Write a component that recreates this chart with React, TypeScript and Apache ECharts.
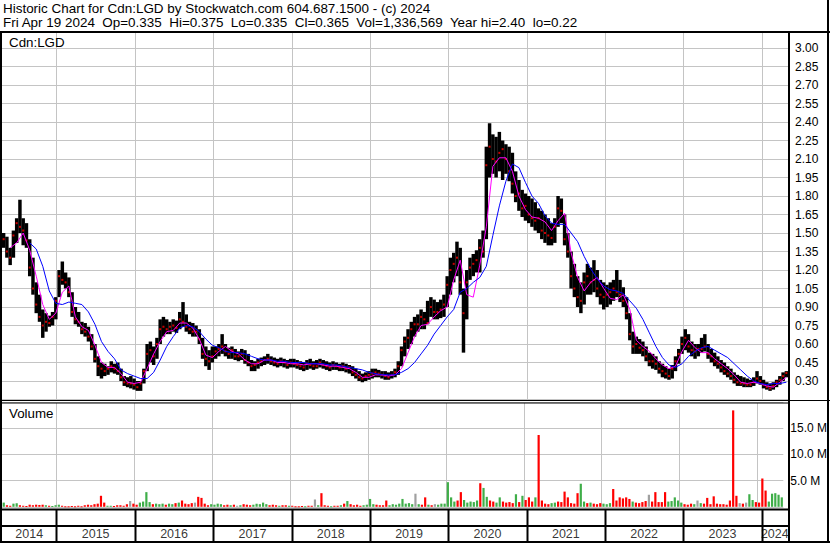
import React, { useEffect, useRef } from "react";
import * as echarts from "echarts";

const TITLE_LINE_1 = "Historic Chart for Cdn:LGD by Stockwatch.com 604.687.1500 - (c) 2024";
const TITLE_LINE_2 = "Fri Apr 19 2024  Op=0.335  Hi=0.375  Lo=0.335  Cl=0.365  Vol=1,336,569  Year hi=2.40  lo=0.22";
const SYMBOL_LABEL = "Cdn:LGD";
const VOLUME_LABEL = "Volume";

const START = Date.UTC(2014, 3, 22);
const END = Date.UTC(2024, 4, 3);

const YEARS = [2014, 2015, 2016, 2017, 2018, 2019, 2020, 2021, 2022, 2023, 2024];

// half-month periods, Apr 2014 .. Apr 2024
const HIGH = [
  1.50,1.47,1.38,1.52,1.62,1.77,1.62,1.58,1.45,1.30,1.10,1.00,0.88,0.85,0.83,0.86,0.98,
  1.20,1.27,1.18,1.14,1.02,0.90,0.86,0.78,0.77,0.74,0.68,0.60,0.50,0.45,0.44,0.42,0.46,0.44,0.45,0.40,0.34,0.33,0.34,0.32,
  0.30,0.30,0.40,0.60,0.62,0.58,0.65,0.80,0.82,0.80,0.78,0.80,0.79,0.86,0.94,0.84,0.78,0.77,0.75,0.72,0.65,0.58,0.55,0.58,
  0.58,0.60,0.68,0.60,0.57,0.58,0.56,0.54,0.56,0.55,0.52,0.47,0.46,0.48,0.49,0.50,0.52,0.50,0.49,0.48,0.49,0.48,0.47,0.48,
  0.48,0.47,0.46,0.45,0.47,0.48,0.46,0.47,0.48,0.47,0.46,0.45,0.46,0.45,0.44,0.45,0.44,0.43,0.42,0.40,0.38,0.36,0.37,0.38,
  0.40,0.40,0.39,0.38,0.38,0.37,0.38,0.40,0.46,0.58,0.66,0.72,0.78,0.82,0.84,0.88,0.86,0.95,0.98,0.96,0.94,0.96,1.00,1.15,
  1.30,1.34,1.43,1.38,1.05,1.20,1.30,1.33,1.36,1.45,1.52,2.20,2.39,2.30,2.28,2.32,2.25,2.22,2.20,2.15,2.00,1.93,1.85,1.82,
  1.80,1.78,1.75,1.70,1.68,1.65,1.62,1.58,1.62,1.80,1.78,1.65,1.50,1.35,1.25,1.15,1.10,1.18,1.25,1.22,1.28,1.20,1.12,1.10,
  1.08,1.10,1.12,1.20,1.12,1.06,0.98,0.85,0.70,0.66,0.64,0.62,0.58,0.53,0.52,0.50,0.46,0.44,0.42,0.40,0.43,0.50,0.56,0.66,
  0.72,0.68,0.62,0.60,0.60,0.65,0.68,0.60,0.56,0.53,0.50,0.47,0.45,0.42,0.40,0.37,0.35,0.34,0.33,0.32,0.31,0.33,0.38,0.34,
  0.31,0.29,0.28,0.29,0.31,0.34,0.37,0.38,
];

const LOW = [
  1.38,1.30,1.24,1.30,1.42,1.50,1.40,1.38,1.15,1.00,0.85,0.78,0.65,0.70,0.74,0.75,0.80,
  0.98,1.08,1.05,0.98,0.82,0.76,0.74,0.68,0.66,0.62,0.55,0.45,0.34,0.32,0.34,0.35,0.37,0.36,0.35,0.30,0.26,0.25,0.24,0.23,
  0.22,0.22,0.28,0.38,0.45,0.43,0.48,0.60,0.66,0.68,0.68,0.70,0.69,0.72,0.74,0.70,0.68,0.66,0.66,0.60,0.48,0.42,0.39,0.45,
  0.48,0.50,0.52,0.50,0.48,0.48,0.47,0.46,0.47,0.44,0.42,0.38,0.38,0.40,0.42,0.43,0.44,0.43,0.42,0.41,0.42,0.41,0.40,0.41,
  0.41,0.40,0.39,0.38,0.39,0.40,0.39,0.40,0.41,0.40,0.39,0.38,0.39,0.39,0.38,0.38,0.37,0.36,0.34,0.32,0.30,0.29,0.30,0.31,
  0.32,0.33,0.33,0.32,0.31,0.31,0.32,0.33,0.35,0.42,0.50,0.56,0.60,0.66,0.70,0.72,0.72,0.76,0.82,0.80,0.80,0.81,0.82,0.90,
  1.00,1.10,1.15,1.00,0.53,0.80,1.12,1.15,1.18,1.18,1.30,1.45,1.95,1.98,1.95,2.00,1.93,1.98,1.92,1.82,1.75,1.68,1.63,1.60,
  1.58,1.55,1.52,1.50,1.45,1.42,1.40,1.40,1.42,1.55,1.58,1.40,1.30,1.05,0.98,0.90,0.85,0.92,1.00,1.00,1.02,0.98,0.92,0.88,
  0.90,0.92,0.95,0.98,0.94,0.90,0.80,0.63,0.52,0.52,0.52,0.50,0.46,0.42,0.40,0.39,0.36,0.33,0.32,0.31,0.32,0.38,0.44,0.52,
  0.55,0.53,0.50,0.48,0.50,0.53,0.54,0.48,0.45,0.42,0.40,0.37,0.35,0.33,0.31,0.28,0.26,0.26,0.25,0.25,0.25,0.26,0.28,0.27,
  0.24,0.23,0.22,0.23,0.25,0.27,0.30,0.33,
];

const CLOSE = [
  1.45,1.35,1.30,1.48,1.58,1.55,1.52,1.44,1.22,1.05,0.92,0.82,0.75,0.78,0.77,0.82,0.95,
  1.15,1.12,1.10,1.02,0.86,0.80,0.78,0.72,0.70,0.66,0.58,0.48,0.42,0.40,0.38,0.40,0.42,0.40,0.38,0.33,0.29,0.28,0.28,0.27,
  0.25,0.28,0.38,0.52,0.55,0.50,0.60,0.72,0.74,0.72,0.74,0.75,0.73,0.80,0.78,0.74,0.72,0.70,0.70,0.64,0.52,0.48,0.46,0.50,
  0.54,0.56,0.58,0.54,0.52,0.55,0.50,0.50,0.52,0.47,0.45,0.42,0.43,0.45,0.46,0.47,0.48,0.46,0.45,0.44,0.46,0.45,0.43,0.45,
  0.44,0.43,0.42,0.41,0.44,0.43,0.42,0.42,0.45,0.43,0.42,0.41,0.43,0.42,0.41,0.42,0.40,0.41,0.37,0.35,0.33,0.32,0.34,0.35,
  0.36,0.37,0.36,0.35,0.34,0.33,0.35,0.37,0.42,0.55,0.62,0.65,0.72,0.76,0.76,0.82,0.80,0.77,0.90,0.86,0.86,0.88,0.92,1.08,
  1.20,1.25,1.30,1.10,0.85,1.10,1.22,1.25,1.28,1.38,1.35,2.05,2.20,2.10,2.08,2.15,2.18,2.10,2.00,1.90,1.80,1.82,1.70,1.72,
  1.65,1.62,1.60,1.62,1.52,1.50,1.48,1.46,1.55,1.70,1.68,1.45,1.35,1.15,1.05,0.98,0.95,1.10,1.15,1.10,1.12,1.05,1.00,0.98,
  1.00,1.02,1.05,1.02,1.00,0.95,0.85,0.68,0.58,0.60,0.57,0.55,0.50,0.46,0.46,0.44,0.40,0.38,0.36,0.34,0.40,0.46,0.52,0.60,
  0.65,0.58,0.55,0.54,0.56,0.56,0.58,0.52,0.50,0.46,0.44,0.41,0.38,0.36,0.34,0.31,0.29,0.28,0.28,0.27,0.27,0.29,0.32,0.30,
  0.27,0.25,0.24,0.26,0.29,0.31,0.34,0.365,
];

// volume in millions of shares
const VOLUME = [
  0.8,0.3,0.2,0.6,0.7,0.3,0.2,0.15,0.4,0.3,0.4,0.35,0.4,0.3,0.2,0.15,0.3,
  0.4,0.2,0.1,0.1,0.15,0.1,0.2,0.1,0.3,0.4,0.3,0.5,0.6,2.1,0.8,0.2,0.2,0.15,0.3,0.3,0.2,0.5,1.1,0.6,
  0.4,0.8,1.0,2.8,0.9,0.5,0.6,0.5,0.6,0.4,0.6,0.5,0.7,0.8,1.2,0.6,0.5,0.7,0.8,1.9,1.7,0.6,0.3,0.5,
  0.4,0.6,0.5,0.3,0.4,0.3,0.4,0.2,0.3,0.5,0.4,0.3,0.4,0.6,0.5,0.8,0.5,0.3,0.4,0.3,0.2,0.3,0.3,0.2,
  0.2,0.1,0.1,0.15,0.1,0.2,0.2,1.4,0.3,2.6,0.3,0.2,0.1,0.2,0.2,0.3,0.6,1.1,0.5,0.3,0.4,0.2,0.3,0.4,
  1.5,0.5,0.4,0.3,0.3,1.2,0.3,0.5,0.4,0.6,1.5,0.6,0.7,0.5,2.5,0.5,0.4,1.8,0.4,0.3,0.5,0.4,0.6,0.6,
  4.7,1.8,1.0,1.2,2.8,1.3,0.8,1.0,0.9,1.2,4.5,3.6,1.9,1.2,1.0,0.8,1.8,1.0,0.8,0.9,0.7,2.4,0.9,2.1,
  1.3,1.8,1.0,1.8,13.7,1.2,0.6,0.5,0.7,0.8,1.0,0.9,2.9,1.8,0.7,0.6,2.6,4.4,1.0,0.7,0.8,0.6,0.5,0.7,
  0.6,0.5,0.7,3.4,1.2,1.8,1.6,1.8,1.5,1.0,0.8,0.7,0.9,1.1,2.3,1.0,2.8,0.9,0.9,2.8,1.0,1.1,1.8,1.2,
  0.8,0.5,0.4,0.6,0.5,1.2,0.7,0.6,1.7,0.5,2.0,0.6,0.5,0.5,0.4,1.2,18.4,2.1,0.7,0.6,0.8,2.4,1.3,0.9,
  0.8,5.4,3.1,1.0,2.5,2.6,2.3,1.8,
];

// monthly readings of the two moving averages
const MA_FAST = [
  null,1.38,1.42,1.50,1.36,1.15,0.92,0.80,0.85,1.02,
  1.07,0.82,0.74,0.71,0.59,0.45,0.41,0.41,0.36,0.29,
  0.28,0.29,0.40,0.52,0.62,0.70,0.71,0.77,0.77,0.73,
  0.64,0.51,0.49,0.54,0.58,0.54,0.52,0.47,0.44,0.44,
  0.47,0.47,0.45,0.45,0.44,0.44,0.43,0.44,0.44,0.43,
  0.42,0.42,0.41,0.40,0.37,0.33,0.33,0.35,0.35,0.34,
  0.35,0.40,0.53,0.66,0.75,0.76,0.82,0.87,0.90,1.12,
  1.28,1.00,0.98,1.24,1.55,2.04,2.11,2.11,2.00,1.80,
  1.69,1.63,1.62,1.59,1.52,1.60,1.66,1.34,1.14,1.03,
  1.10,1.14,1.05,0.97,0.96,1.00,0.88,0.63,0.58,0.54,
  0.48,0.43,0.40,0.42,0.54,0.63,0.57,0.53,0.53,0.48,
  0.44,0.40,0.35,0.29,0.28,0.29,0.28,0.26,0.25,0.29,0.33,
];

const MA_SLOW = [
  null,null,null,null,1.42,1.37,1.23,1.03,0.93,0.92,
  0.94,0.93,0.92,0.86,0.76,0.62,0.54,0.48,0.39,0.36,
  0.34,0.32,0.32,0.37,0.47,0.58,0.66,0.73,0.75,0.74,
  0.70,0.64,0.59,0.57,0.54,0.53,0.53,0.52,0.50,0.48,
  0.47,0.47,0.46,0.46,0.45,0.45,0.45,0.44,0.44,0.44,
  0.43,0.43,0.42,0.41,0.40,0.39,0.37,0.36,0.35,0.35,
  0.35,0.37,0.40,0.45,0.52,0.59,0.68,0.75,0.82,0.88,
  1.02,1.05,1.10,1.14,1.23,1.48,1.72,1.92,2.06,2.03,
  1.91,1.80,1.74,1.64,1.58,1.57,1.57,1.50,1.43,1.31,
  1.21,1.13,1.07,1.04,1.03,1.01,0.95,0.89,0.80,0.69,
  0.58,0.49,0.43,0.41,0.44,0.50,0.54,0.57,0.58,0.55,
  0.52,0.49,0.44,0.39,0.34,0.30,0.28,0.27,0.28,0.28,0.29,
];

const FONT = '"Liberation Sans", Arial, sans-serif';
const GRID_GRAY = "#c4c4c4";
const UP = "#3fae49";
const DOWN = "#ff0000";
const FLAT = "#a0a0a0";

export default function App() {
  const ref = useRef<HTMLDivElement>(null);

  useEffect(() => {
    const chart = echarts.init(ref.current!, null, { renderer: "svg" });
    const period = (END - START) / HIGH.length;
    const tBar = (i: number) => START + (i + 0.5) * period;
    const tMa = (m: number) => START + (2 * m + 0.5) * period;

    const priceData = HIGH.map((h, i) => [tBar(i), LOW[i], h]);
    const closeData = CLOSE.map((c, i) => [tBar(i), c]);
    const volData = VOLUME.map((v, i) => {
      const prev = i > 0 ? CLOSE[i - 1] : CLOSE[i] - 1;
      const color = CLOSE[i] > prev ? UP : CLOSE[i] < prev ? DOWN : FLAT;
      return { value: [tBar(i), v * 1e6], itemStyle: { color } };
    });
    const fastData = MA_FAST.map((v, m) => [tMa(m), v]).filter((d) => d[1] !== null);
    const slowData = MA_SLOW.map((v, m) => [tMa(m), v]).filter((d) => d[1] !== null);

    const yearStarts = YEARS.slice(1).map((y) => [Date.UTC(y, 0, 1)]);
    const yearLabels = YEARS.map((y) => {
      const a = Math.max(START, Date.UTC(y, 0, 1));
      const b = Math.min(END, Date.UTC(y + 1, 0, 1));
      return { name: String(y), value: [(a + b) / 2, 0.5] };
    });

    const yearLineSeries = (k: number, yMin: number, color: string, width: number) => ({
      type: "custom",
      xAxisIndex: k,
      yAxisIndex: k,
      silent: true,
      z: 1,
      data: yearStarts,
      encode: { x: 0 },
      renderItem: (params: any, api: any) => {
        const cs = params.coordSys;
        const x = Math.round(api.coord([api.value(0), yMin])[0]) + 0.5;
        return {
          type: "line",
          shape: { x1: x, y1: cs.y, x2: x, y2: cs.y + cs.height },
          style: { stroke: color, lineWidth: width },
        };
      },
    });

    const xAxisBase = (k: number) => ({
      type: "time",
      gridIndex: k,
      min: START,
      max: END,
      axisLabel: { show: false },
      axisLine: { show: false },
      axisTick: { show: false },
      splitLine: { show: false },
    });

    const frame = (x: number, y: number, w: number, h: number) => ({
      type: "rect",
      shape: { x, y, width: w, height: h },
      style: { fill: "#000" },
      silent: true,
      z: 100,
    });

    const option: any = {
      animation: false,
      backgroundColor: "#fff",
      grid: [
        { left: 2, top: 32, width: 786, height: 367.5 },
        { left: 2, top: 402, width: 786, height: 104.8 },
        { left: 2, top: 509, width: 786, height: 33 },
      ],
      xAxis: [xAxisBase(0), xAxisBase(1), xAxisBase(2)],
      yAxis: [
        {
          type: "value",
          gridIndex: 0,
          position: "right",
          min: 0.15,
          max: 3.13,
          interval: 0.15,
          axisLine: { show: false },
          axisTick: { show: false },
          splitLine: { show: true, lineStyle: { color: GRID_GRAY, width: 1 } },
          axisLabel: {
            show: true,
            showMinLabel: false,
            showMaxLabel: false,
            margin: 7,
            color: "#000",
            fontSize: 12,
            fontFamily: FONT,
            formatter: (v: number) => v.toFixed(2),
          },
        },
        {
          type: "value",
          gridIndex: 1,
          position: "right",
          min: 0,
          max: 20e6,
          interval: 5e6,
          axisLine: { show: false },
          axisTick: { show: false },
          splitLine: { show: true, lineStyle: { color: GRID_GRAY, width: 1 } },
          axisLabel: {
            show: true,
            showMinLabel: false,
            showMaxLabel: false,
            margin: 7,
            color: "#000",
            fontSize: 12,
            fontFamily: FONT,
            formatter: (v: number) => (v / 1e6).toFixed(1) + " M",
          },
        },
        {
          type: "value",
          gridIndex: 2,
          min: 0,
          max: 2,
          show: false,
        },
      ],
      series: [
        yearLineSeries(0, 0.15, GRID_GRAY, 1),
        yearLineSeries(1, 0, GRID_GRAY, 1),
        yearLineSeries(2, 0, "#000", 2),
        {
          type: "custom",
          xAxisIndex: 0,
          yAxisIndex: 0,
          z: 3,
          silent: true,
          data: priceData,
          encode: { x: 0, y: [1, 2] },
          renderItem: (params: any, api: any) => {
            const t = api.value(0);
            const p1 = api.coord([t, api.value(2)]);
            const p2 = api.coord([t, api.value(1)]);
            const w = api.size([period, 0])[0] + 0.2;
            return {
              type: "rect",
              shape: { x: p1[0] - w / 2, y: p1[1], width: w, height: Math.max(1, p2[1] - p1[1]) },
              style: { fill: "#000" },
            };
          },
        },
        {
          type: "scatter",
          xAxisIndex: 0,
          yAxisIndex: 0,
          z: 4,
          silent: true,
          symbol: "rect",
          symbolSize: [2, 2],
          itemStyle: { color: DOWN },
          data: closeData,
        },
        {
          type: "line",
          xAxisIndex: 0,
          yAxisIndex: 0,
          z: 5,
          silent: true,
          showSymbol: false,
          symbol: "none",
          lineStyle: { color: "#ff00ff", width: 1 },
          data: fastData,
        },
        {
          type: "line",
          xAxisIndex: 0,
          yAxisIndex: 0,
          z: 6,
          silent: true,
          showSymbol: false,
          symbol: "none",
          lineStyle: { color: "#0000ff", width: 1 },
          data: slowData,
        },
        {
          type: "custom",
          xAxisIndex: 1,
          yAxisIndex: 1,
          z: 3,
          silent: true,
          data: volData,
          encode: { x: 0, y: 1 },
          renderItem: (params: any, api: any) => {
            const t = api.value(0);
            const p0 = api.coord([t, 0]);
            const p1 = api.coord([t, api.value(1)]);
            return {
              type: "rect",
              shape: { x: p0[0] - 1, y: p1[1], width: 2.2, height: Math.max(1, p0[1] - p1[1]) },
              style: { fill: api.visual("color") },
            };
          },
        },
        {
          type: "scatter",
          xAxisIndex: 2,
          yAxisIndex: 2,
          silent: true,
          symbolSize: 0,
          data: yearLabels,
          label: {
            show: true,
            position: "inside",
            formatter: "{b}",
            color: "#000",
            fontSize: 12.5,
            fontFamily: FONT,
          },
        },
      ],
      graphic: [
        {
          type: "text",
          x: 3,
          y: 2,
          silent: true,
          style: {
            text: TITLE_LINE_1 + "\n" + TITLE_LINE_2,
            fill: "#000",
            font: `13.45px ${FONT}`,
            lineHeight: 13.5,
            verticalAlign: "top",
          },
        },
        {
          type: "text",
          x: 9,
          y: 42,
          silent: true,
          z: 100,
          style: { text: SYMBOL_LABEL, fill: "#000", font: `13.33px ${FONT}`, verticalAlign: "middle" },
        },
        {
          type: "text",
          x: 9,
          y: 413,
          silent: true,
          z: 100,
          style: { text: VOLUME_LABEL, fill: "#000", font: `13.33px ${FONT}`, verticalAlign: "middle" },
        },
        frame(0, 31, 830, 2),
        frame(0, 31, 2, 512),
        frame(827, 0, 2, 543),
        frame(788, 31, 2, 512),
        frame(0, 541, 830, 2),
        frame(0, 400, 830, 1),
        frame(0, 402.5, 789, 1),
        frame(0, 508.5, 789, 2),
        frame(0, 525, 789, 2),
      ],
    };

    chart.setOption(option);
    return () => chart.dispose();
  }, []);

  return (
    <div
      ref={ref}
      style={{ position: "absolute", left: 0, top: 0, width: 830, height: 543 }}
    />
  );
}
